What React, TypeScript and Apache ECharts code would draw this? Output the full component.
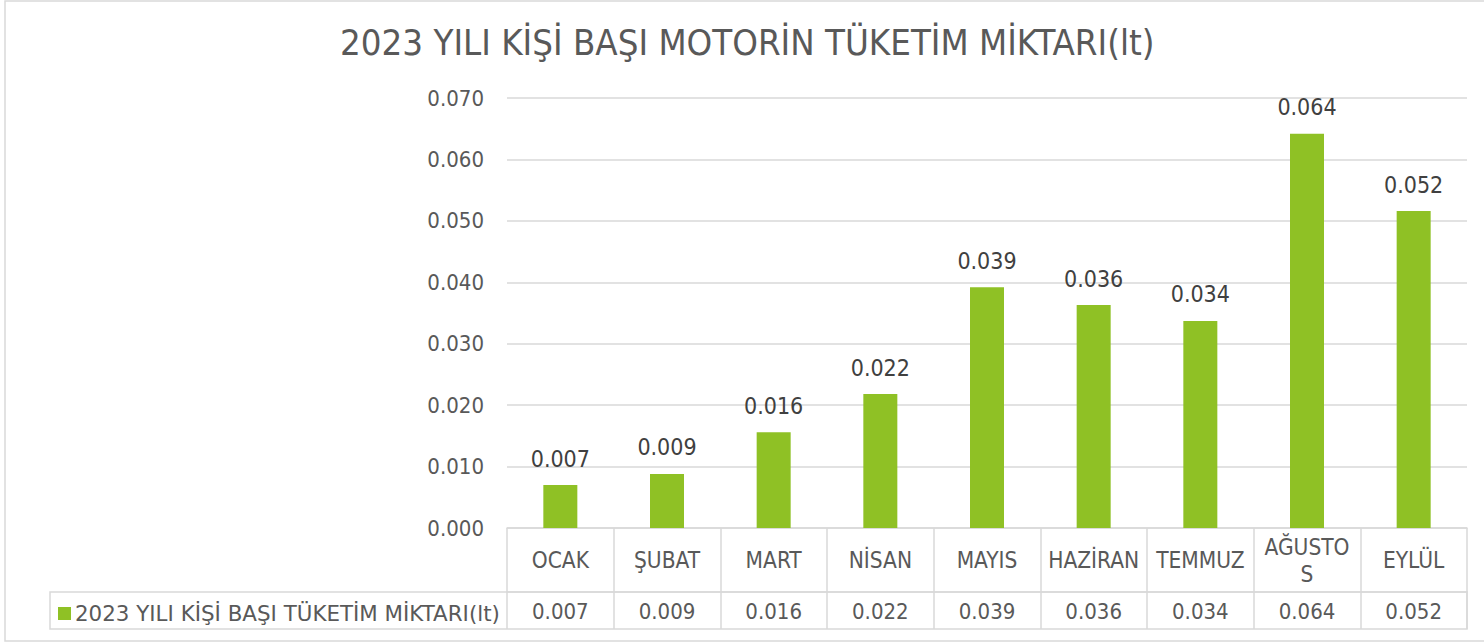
import React, { useEffect, useRef } from "react";
import * as echarts from "echarts";

const categories = ["OCAK", "ŞUBAT", "MART", "NİSAN", "MAYIS", "HAZİRAN", "TEMMUZ", "AĞUSTOS", "EYLÜL"];
const values = [0.007, 0.0088, 0.0156, 0.0218, 0.0392, 0.0363, 0.0337, 0.0642, 0.0516];
const seriesName = "2023 YILI KİŞİ BAŞI TÜKETİM MİKTARI(lt)";
const titleText = "2023 YILI KİŞİ BAŞI MOTORİN TÜKETİM MİKTARI(lt)";

const FONT = '"DejaVu Sans Condensed", "DejaVu Sans", sans-serif';
const FONT_WIDE = '"DejaVu Sans", sans-serif';
const GRID_COLOR = "#d9d9d9";
const TEXT = "#595959";
const GREEN = "#8fc125";

export default function App() {
  const ref = useRef<HTMLDivElement>(null);
  useEffect(() => {
    const chart = echarts.init(ref.current!, undefined, { renderer: "svg" });
    const fmt = (v: number) => v.toFixed(3);
    chart.setOption({
      animation: false,
      textStyle: { fontFamily: FONT },
      title: {
        text: titleText,
        left: 335,
        top: 19,
        textStyle: { fontFamily: FONT, fontSize: 36.3, fontWeight: "normal", color: TEXT },
      },
      legend: {
        data: [seriesName],
        left: 58,
        top: 603,
        icon: "rect",
        itemWidth: 13,
        itemHeight: 13,
        itemGap: 4,
        textStyle: { fontFamily: FONT_WIDE, fontSize: 21.4, color: TEXT, padding: [0, 0, 0, -1] },
        padding: 0,
      },
      grid: { left: 507, right: 17, top: 98, bottom: 115 },
      xAxis: [
        {
          type: "category",
          data: categories,
          position: "bottom",
          axisLine: { show: true, lineStyle: { color: GRID_COLOR, width: 1.5 } },
          axisTick: { show: true, interval: 0, length: 64, lineStyle: { color: GRID_COLOR, width: 1.5 } },
          axisLabel: {
            interval: 0,
            color: TEXT,
            fontFamily: FONT,
            fontSize: 22.5,
            margin: 32,
            lineHeight: 27,
            verticalAlign: "middle",
            formatter: (v: string) => (v === "AĞUSTOS" ? "AĞUSTO\nS" : v),
          },
        },
        {
          type: "category",
          data: categories,
          position: "bottom",
          offset: 64,
          axisLine: { show: true, lineStyle: { color: GRID_COLOR, width: 1.5 } },
          axisTick: { show: true, interval: 0, length: 37, lineStyle: { color: GRID_COLOR, width: 1.5 } },
          axisLabel: {
            interval: 0,
            color: TEXT,
            fontFamily: FONT,
            fontSize: 22,
            margin: 8,
            formatter: (_v: string, i: number) => fmt(values[i]),
          },
        },
      ],
      yAxis: {
        type: "value",
        min: 0,
        max: 0.07,
        interval: 0.01,
        axisLine: { show: false },
        axisTick: { show: false },
        axisLabel: { color: TEXT, fontFamily: FONT, fontSize: 22, margin: 23, formatter: (v: number) => fmt(v) },
        splitLine: { lineStyle: { color: GRID_COLOR, width: 1.5 } },
      },
      series: [
        {
          name: seriesName,
          type: "bar",
          data: values,
          barWidth: 34,
          itemStyle: { color: GREEN },
          label: {
            show: true,
            position: "top",
            distance: 15,
            color: "#404040",
            fontFamily: FONT,
            fontSize: 23,
            formatter: (p: any) => fmt(p.value),
          },
        },
      ],
      graphic: [
        {
          type: "rect",
          shape: { x: 5, y: 1, width: 1490, height: 640 },
          style: { fill: "none", stroke: GRID_COLOR, lineWidth: 1.5 },
          silent: true,
        },
        {
          type: "rect",
          shape: { x: 50, y: 592, width: 1417, height: 37 },
          style: { fill: "none", stroke: GRID_COLOR, lineWidth: 1.5 },
          silent: true,
        },
      ],
    });
    return () => chart.dispose();
  }, []);
  return <div ref={ref} style={{ position: "fixed", left: 0, top: 0, width: 1484, height: 643, background: "#fff" }} />;
}
